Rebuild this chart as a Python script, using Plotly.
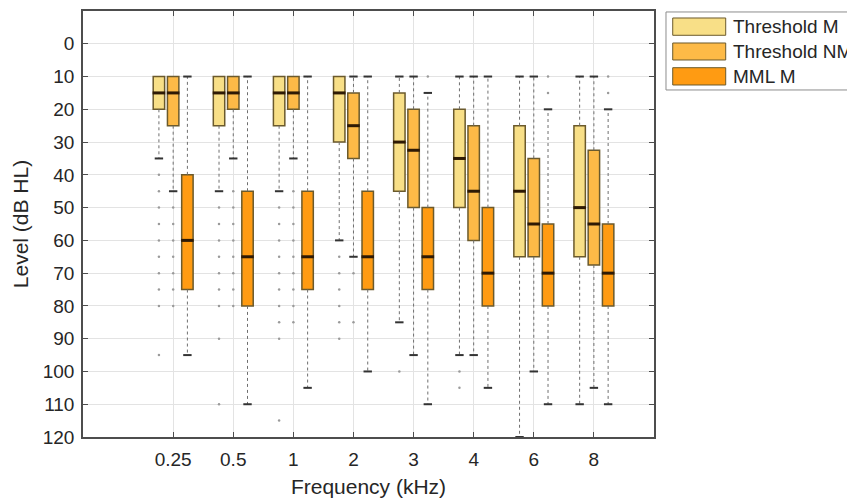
import plotly.graph_objects as go

freq_labels = ["0.25", "0.5", "1", "2", "3", "4", "6", "8"]
series_names = ["Threshold M", "Threshold NM", "MML M"]

# Threshold M
tm_q1 = [10, 10, 10, 10, 15, 20, 25, 25]
tm_med = [15, 15, 15, 15, 30, 35, 45, 50]
tm_q3 = [20, 25, 25, 30, 45, 50, 65, 65]
tm_wlo = [10, 10, 10, 10, 10, 10, 10, 10]   # whisker end on the low-level side
tm_whi = [35, 45, 45, 60, 85, 95, 120, 110]  # whisker end on the high-level side
tm_out = [[40, 45, 50, 55, 60, 65, 70, 75, 80, 95],
          [50, 55, 60, 65, 70, 75, 80, 90, 110],
          [50, 55, 60, 65, 70, 75, 80, 85, 90, 115],
          [65, 70, 75, 80, 85, 90],
          [100],
          [100, 105],
          [],
          []]

# Threshold NM
tnm_q1 = [10, 10, 10, 15, 20, 25, 35, 32.5]
tnm_med = [15, 15, 15, 25, 32.5, 45, 55, 55]
tnm_q3 = [25, 20, 20, 35, 50, 60, 65, 67.5]
tnm_wlo = [10, 10, 10, 10, 10, 10, 10, 10]
tnm_whi = [45, 35, 35, 65, 95, 95, 100, 105]
tnm_out = [[50, 55, 60, 65, 70, 75, 80],
           [45, 50, 55, 60, 65, 70, 75, 80],
           [45, 50, 55, 60, 65, 70, 75, 80, 85],
           [70, 85],
           [],
           [],
           [],
           []]

# MML M
mml_q1 = [40, 45, 45, 45, 50, 50, 55, 55]
mml_med = [60, 65, 65, 65, 65, 70, 70, 70]
mml_q3 = [75, 80, 75, 75, 75, 80, 80, 80]
mml_wlo = [10, 10, 10, 10, 15, 10, 20, 20]
mml_whi = [95, 110, 105, 100, 110, 105, 110, 110]
mml_out = [[], [], [], [], [10], [], [10, 15], [10, 15]]

fill_colors = ["#F8DF87", "#FDBA47", "#FF9B12"]
offsets = [-0.237, 0.0, 0.237]
box_w = 0.19

series = [
    (tm_q1, tm_med, tm_q3, tm_wlo, tm_whi, tm_out),
    (tnm_q1, tnm_med, tnm_q3, tnm_wlo, tnm_whi, tnm_out),
    (mml_q1, mml_med, mml_q3, mml_wlo, mml_whi, mml_out),
]

fig = go.Figure()
cats = list(range(len(freq_labels)))

for s, (q1, med, q3, wlo, whi, out) in enumerate(series):
    xs = [c + offsets[s] for c in cats]
    wx, wy = [], []
    cx, cy = [], []
    for i, x in enumerate(xs):
        if wlo[i] < q1[i]:
            wx += [x, x, None]
            wy += [q1[i], wlo[i], None]
            cx.append(x)
            cy.append(wlo[i])
        if whi[i] > q3[i]:
            wx += [x, x, None]
            wy += [q3[i], whi[i], None]
            cx.append(x)
            cy.append(whi[i])
    fig.add_trace(go.Scatter(x=wx, y=wy, mode="lines", showlegend=False,
                             line=dict(color="#6f6f6f", width=1, dash="dot"),
                             hoverinfo="skip"))
    fig.add_trace(go.Scatter(x=cx, y=cy, mode="markers", showlegend=False,
                             marker=dict(symbol="line-ew", size=6,
                                         line=dict(color="#333333", width=2)),
                             hoverinfo="skip"))
    ox, oy = [], []
    for i, x in enumerate(xs):
        for v in out[i]:
            ox.append(x)
            oy.append(v)
    fig.add_trace(go.Scatter(x=ox, y=oy, mode="markers", showlegend=False,
                             marker=dict(symbol="circle", size=2.5, color="#9a9a9a"),
                             hoverinfo="skip"))
    fig.add_trace(go.Box(x=xs, q1=q1, median=med, q3=q3,
                         lowerfence=q1, upperfence=q3,
                         width=box_w, name=series_names[s],
                         fillcolor=fill_colors[s],
                         line=dict(color="#6b5a2c", width=1.5),
                         boxpoints=False, showlegend=False))
    fig.add_trace(go.Scatter(x=xs, y=med, mode="markers", showlegend=False,
                             marker=dict(symbol="line-ew", size=9,
                                         line=dict(color="#2e1a05", width=3)),
                             hoverinfo="skip"))

# manual legend (MATLAB-style wide swatches)
shapes = [dict(type="rect", xref="paper", yref="paper",
               x0=1.021, x1=1.36, y0=0.8146, y1=0.9977,
               line=dict(color="#8c8c8c", width=1), fillcolor="white", layer="below")]
annotations = []
row_tops = [0.9836, 0.9249, 0.8669]
row_bots = [0.9430, 0.8850, 0.8263]
for s in range(3):
    shapes.append(dict(type="rect", xref="paper", yref="paper",
                       x0=1.0328, x1=1.1256, y0=row_bots[s], y1=row_tops[s],
                       fillcolor=fill_colors[s],
                       line=dict(color="#6b5a2c", width=1)))
    annotations.append(dict(xref="paper", yref="paper",
                            x=1.134, y=(row_tops[s] + row_bots[s]) / 2,
                            xanchor="left", yanchor="middle", showarrow=False,
                            text=series_names[s],
                            font=dict(size=19, color="#262626")))

axis_font = dict(family="Liberation Sans, Arial, sans-serif", size=19, color="#262626")

# page body has an 8px default margin, so margins are reduced accordingly
fig.update_layout(
    width=855, height=503,
    margin=dict(l=75, r=209, t=3, b=74, autoexpand=False),
    paper_bgcolor="white", plot_bgcolor="white",
    font=dict(family="Liberation Sans, Arial, sans-serif", color="#262626"),
    shapes=shapes, annotations=annotations,
    showlegend=False,
    boxmode="overlay",
)
fig.update_xaxes(
    range=[-1.5, 8.0], tickmode="array", tickvals=cats, ticktext=freq_labels,
    ticks="inside", ticklen=5, tickcolor="#4d4d4d", tickfont=axis_font,
    ticklabelstandoff=4,
    showline=True, linecolor="#4d4d4d", linewidth=1.5, mirror="ticks",
    showgrid=True, gridcolor="#e3e3e3", gridwidth=1, zeroline=False,
    automargin=False,
    title=dict(text="Frequency (kHz)", font=dict(size=21, color="#262626",
               family="Liberation Sans, Arial, sans-serif"), standoff=11),
)
fig.update_yaxes(
    range=[120, -10], tickmode="array", tickvals=list(range(0, 121, 10)),
    ticks="inside", ticklen=5, tickcolor="#4d4d4d", tickfont=axis_font,
    ticklabelstandoff=3,
    showline=True, linecolor="#4d4d4d", linewidth=1.5, mirror="ticks",
    showgrid=True, gridcolor="#e3e3e3", gridwidth=1, zeroline=False,
    automargin=False,
    title=dict(text="Level (dB HL)", font=dict(size=21, color="#262626",
               family="Liberation Sans, Arial, sans-serif"), standoff=8),
)

fig.write_html("out.html")
